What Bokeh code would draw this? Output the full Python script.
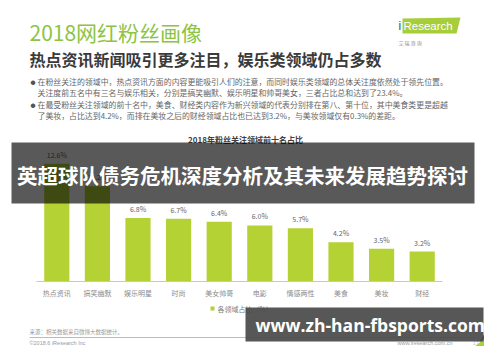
from bokeh.plotting import figure
from bokeh.models import Label, BoxAnnotation, ColumnDataSource, Range1d
from bokeh.core.properties import value
from bokeh.embed import file_html
from bokeh.resources import INLINE

# ---- data ----
categories = ["热点资讯", "搞笑幽默", "娱乐明星", "时尚", "美女帅哥", "电影", "情感两性", "美食", "美妆", "财经"]
shares = [12.6, 10.2, 6.8, 6.7, 6.4, 6.0, 5.7, 4.2, 3.5, 3.2]
share_labels = [f"{v:.1f}%" for v in shares]

title_text = "2018网红粉丝画像"
subtitle_text = "热点资讯新闻吸引更多注目，娱乐类领域仍占多数"
bullet_lines = [
    "在粉丝关注的领域中，热点资讯方面的内容更能吸引人们的注意，而同时娱乐类领域的总体关注度依然处于领先位置。",
    "关注度前五名中有三名与娱乐相关，分别是搞笑幽默、娱乐明星和帅哥美女，三者占比总和达到了23.4%。",
    "在最受粉丝关注领域的前十名中，美食、财经类内容作为新兴领域的代表分别排在第八、第十位，其中美食类更是超越",
    "了美妆，占比达到4.2%，而排在美妆之后的财经领域占比也已达到3.2%，与美妆领域仅有0.3%的差距。",
]
chart_title = "2018年粉丝关注领域前十名占比"
legend_text = "各领域占比（%）"
banner_text = "英超球队债务危机深度分析及其未来发展趋势探讨"
watermark_text = "www.zh-han-fbsports.com"
source_text = "来源：相关数据来自微博大数据统计。"
copyright_text = "©2018.6 iResearch Inc"
site_text = "www.iresearch.com.cn"
page_no = "17"
logo_cn = "艾    瑞    咨    询"

CJK = "Noto Sans CJK SC"
BAR = "#b5d234"

W, H = 484, 346
# main coordinate system = pixel position in the reference picture (page offset 8px)
p = figure(width=W, height=H, x_range=Range1d(8, 8 + W), y_range=Range1d(8 + H, 8),
           output_backend="svg", toolbar_location=None,
           x_axis_location=None, y_axis_location=None,
           min_border=0, min_border_left=0, min_border_right=0, min_border_top=0, min_border_bottom=0)
p.outline_line_color = None
p.grid.visible = False
p.background_fill_color = "white"
p.border_fill_color = "white"

# bar-chart scales: category index -> x, share (%) -> y
step, x_first = 40.6, 64.3
px_per_pct, base_y = 9.35, 289
p.extra_x_ranges = {"idx": Range1d((8 - x_first) / step, (8 + W - x_first) / step)}
p.extra_y_ranges = {"pct": Range1d(-(8 + H - base_y) / px_per_pct, (base_y - 8) / px_per_pct)}

idx = list(range(len(categories)))
src = ColumnDataSource(dict(i=idx, cat=categories, v=shares, lab=share_labels, zero=[0] * len(idx)))
p.vbar(x="i", top="v", width=0.62, source=src, fill_color=BAR, line_color=None,
       x_range_name="idx", y_range_name="pct")
p.text(x="i", y="v", text="lab", source=src, text_align="center", text_baseline="bottom",
       y_offset=-4, text_font=value(CJK), text_font_size="7px", text_color="#666666",
       x_range_name="idx", y_range_name="pct")
p.text(x="i", y="zero", text="cat", source=src, text_align="center", text_baseline="middle",
       y_offset=11, text_font=value(CJK), text_font_size="7px", text_color="#8c8c8c",
       x_range_name="idx", y_range_name="pct")
p.segment(x0=[idx[0] - 0.5], x1=[idx[-1] + 0.5], y0=[0], y1=[0], line_color="#c8c8c8", line_width=1,
          x_range_name="idx", y_range_name="pct")


def lab(X, Y, text, size, color, font=CJK, style="normal", align="left", level="annotation"):
    p.add_layout(Label(x=X, y=Y, text=text, text_font=font, text_font_size=size, text_color=color,
                       text_font_style=style, text_align=align, text_baseline="middle", level=level))


def box(X0, X1, Y0, Y1, color, alpha=1.0):
    p.add_layout(BoxAnnotation(left=X0, right=X1, top=Y0, bottom=Y1,
                               fill_color=color, fill_alpha=alpha, line_color=None, level="overlay"))


# header
lab(37, 39, title_text, "21px", "#8dc443")
lab(37, 66, subtitle_text, "16px", "#3a3a3a", style="bold")
# logo
p.patch([410, 468, 464, 410], [26, 25, 41, 41], fill_color="#a6cd3a", line_color=None)
lab(406, 33, "i", "12px", "#3d5a1a", font="Liberation Sans")
lab(411, 33, "Research", "11.5px", "white", font="Liberation Sans")
lab(406, 50, logo_cn, "5px", "#8a8a8a")

# bullets
for Yb in (89, 112):
    lab(38, Yb, "●", "5px", "#555555")
for Yl, line in zip((89, 100, 112, 123), bullet_lines):
    lab(45, Yl, line, "7.9px", "#666666")

lab(253, 147, chart_title, "8px", "#404040", style="bold", align="center")

# legend
p.rect(x=[220], y=[316], width=4, height=4, fill_color=BAR, line_color=None)
lab(225, 316, legend_text, "7px", "#7a7a7a")

# footer
lab(37, 339, source_text, "5.5px", "#9a9a9a")
p.segment(x0=[37], x1=[482], y0=[345], y1=[345], line_color="#bbbbbb", line_width=1)
lab(37, 350, copyright_text, "5.5px", "#9a9a9a", font="Liberation Sans")
lab(405, 350, site_text, "5.5px", "#9a9a9a", font="Liberation Sans")
p.patch([487, 500, 500], [349, 329, 349], fill_color="#2f6e78", line_color=None)
p.patch([472, 500, 500], [362, 340, 362], fill_color="#a8d13a", line_color=None)
lab(480, 350, page_no, "6px", "#c8c8c8", font="Liberation Sans")

# overlay banner
box(19, 482, 150, 211, "black", 0.65)
lab(250, 182, banner_text, "20.5px", "white", style="bold", align="center", level="overlay")

# watermark
box(253, 491, 315, 349, "#4a4a4a", 0.93)
lab(263, 332, watermark_text, "17.5px", "white", font="Open Sans", style="bold", level="overlay")

open("out.html", "w").write(file_html(p, INLINE))
